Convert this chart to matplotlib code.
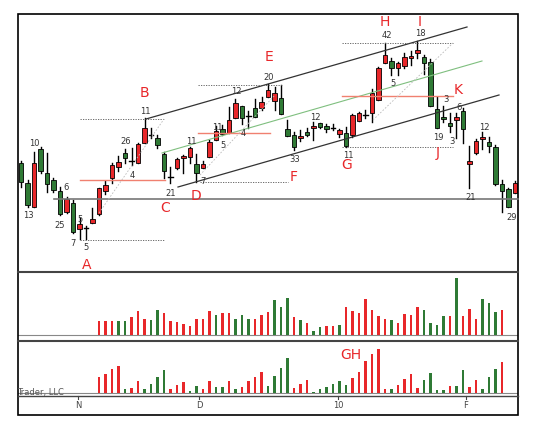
import numpy as np
import matplotlib.pyplot as plt
from matplotlib.patches import Rectangle

# candle data (screen-style levels: smaller = higher)
opens = [163, 183, 207, 149, 173, 180, 191, 212, 203, 229, 228, 223, 214, 191, 178, 167, 153, 161, 163, 143,
         135, 138, 154, 177, 168, 158, 157, 164, 168, 157, 140, 129, 133, 118, 106, 116, 108, 108, 97, 101,
         98, 129, 135, 138, 132, 128, 123, 126, 128, 134, 133, 135, 121, 115, 113, 100, 63, 61, 68, 66,
         58, 53, 57, 62, 109, 117, 123, 120, 111, 164, 153, 139, 142, 147, 184, 189, 193]
closes = [182, 205, 163, 171, 184, 190, 214, 199, 232, 224, 228, 219, 188, 185, 165, 162, 158, 161, 144, 128,
          135, 145, 171, 177, 159, 156, 148, 173, 164, 142, 131, 134, 120, 103, 118, 116, 117, 102, 90, 93,
          114, 136, 147, 136, 135, 126, 127, 129, 128, 130, 146, 115, 113, 115, 93, 68, 55, 68, 63, 57,
          56, 50, 63, 106, 128, 119, 126, 117, 129, 161, 141, 137, 146, 184, 191, 207, 183]
highs = [161, 180, 152, 147, 153, 178, 187, 197, 200, 218, 226, 208, 188, 181, 163, 156, 149, 148, 143, 118,
         128, 135, 152, 167, 158, 155, 147, 154, 161, 140, 126, 125, 107, 99, 106, 111, 99, 97, 84, 87,
         85, 120, 132, 130, 128, 122, 123, 124, 124, 129, 127, 114, 112, 110, 89, 67, 43, 58, 62, 53,
         51, 41, 55, 59, 97, 106, 113, 113, 108, 146, 139, 132, 137, 145, 180, 188, 181]
lows = [187, 207, 207, 173, 192, 192, 215, 213, 233, 239, 239, 223, 215, 194, 183, 171, 163, 165, 163, 143,
        138, 148, 178, 183, 169, 173, 163, 182, 168, 157, 140, 135, 133, 118, 124, 128, 117, 110, 97, 110,
        114, 136, 150, 141, 136, 140, 128, 132, 130, 137, 147, 137, 121, 118, 122, 100, 63, 75, 75, 68,
        65, 58, 74, 106, 128, 122, 132, 138, 143, 188, 154, 149, 152, 185, 212, 207, 193]

# volume panels (start at candle 12)
vol1 = [41, 41, 41, 41, 43, 54, 71, 48, 46, 74, 66, 43, 39, 34, 28, 48, 49, 71, 59, 66, 66, 48, 61, 49, 49,
        59, 68, 104, 84, 111, 53, 44, 36, 11, 24, 28, 26, 31, 84, 73, 66, 108, 76, 56, 49, 46, 36, 63, 59,
        83, 76, 36, 31, 56, 56, 171, 58, 78, 48, 108, 96, 69, 74]
vol1_col = "RRRGGRRRGGRRRRRRRRGRRGGGRRRGGGRGRGGRRGRRRRRRRGRRRRGGGGRGRRRGGGR"
vol2 = [48, 58, 72, 82, 12, 15, 37, 13, 27, 48, 68, 13, 23, 33, 7, 22, 13, 35, 18, 18, 37, 13, 18, 35, 47,
        63, 20, 50, 74, 105, 15, 28, 40, 2, 12, 18, 27, 35, 25, 44, 63, 97, 118, 132, 13, 13, 25, 42, 58,
        15, 40, 60, 10, 10, 20, 20, 68, 17, 40, 13, 47, 72, 92]
vol2_col = "RRRRGRRGGGGRRRGGRRGGRGRRRRGGGGRRRGGGGGGRRRRRRGRRRRGGGGRGGRRGGGR"
vol_start = 12

RED, GREEN = "#e8272a", "#2f7a35"

fig = plt.figure(figsize=(5.37, 4.21), dpi=100)
W, H = 537, 421


def add_axes_px(x0, y0, x1, y1):
    return fig.add_axes([x0 / W, 1 - y1 / H, (x1 - x0) / W, (y1 - y0) / H])


x_left, x_right = 18, 518
x0px, step = 21, 6.5
xl = ((x_left - x0px) / step, (x_right - x0px) / step)

# main candle panel
ax = add_axes_px(x_left, 14, x_right, 272)
for i, (o, c, h, l) in enumerate(zip(opens, closes, highs, lows)):
    col = RED if c < o else GREEN
    ax.plot([i, i], [h, l], color="black", lw=1.0, zorder=2)
    top, bot = min(o, c), max(o, c)
    if bot - top < 1.5:
        ax.plot([i - 0.35, i + 0.35], [o, o], color="black", lw=1.0, zorder=3)
    else:
        ax.add_patch(Rectangle((i - 0.32, top), 0.64, bot - top, facecolor=col,
                               edgecolor="black", lw=0.6, zorder=3))
ax.set_xlim(*xl)
ax.set_ylim(272, 14)
ax.set_facecolor("white")
ax.set_xticks([])
ax.set_yticks([])
for s in ax.spines.values():
    s.set_visible(False)

# volume panels
def vol_panel(y0, y1, base, vals, cols):
    v = add_axes_px(x_left, y0, x_right, y1)
    idx = np.arange(vol_start, vol_start + len(vals))
    v.bar(idx, vals, width=0.42, color=[RED if k == "R" else GREEN for k in cols],
          edgecolor="none", zorder=2)
    v.axhline(0, color="#888888", lw=0.8, zorder=1)
    v.set_xlim(*xl)
    v.set_ylim(-(y1 - base) * 3, (base - y0) * 3)
    v.set_xticks([])
    v.set_yticks([])
    for s in v.spines.values():
        s.set_visible(False)
    return v

vol_panel(274, 340, 335, vol1, vol1_col)
vol_panel(344, 396, 393, vol2, vol2_col)

# overlay in pixel coordinates for drawing annotations
ov = fig.add_axes([0, 0, 1, 1], facecolor="none")
ov.set_xlim(0, W)
ov.set_ylim(H, 0)
ov.axis("off")

# frame and separators
ov.add_patch(Rectangle((x_left, 14), x_right - x_left, 401, fill=False, edgecolor="black", lw=1.2))
ov.plot([x_left, x_right], [272, 272], color="#444444", lw=1.5)
ov.plot([x_left, x_right], [341, 341], color="#444444", lw=1.5)
ov.plot([x_left, x_right], [396, 396], color="#444444", lw=1.0)

# trend lines
ov.plot([54, 518], [199, 199], color="#777777", lw=1.2)
ov.plot([146, 467], [119, 27], color="#333333", lw=0.9)
ov.plot([162, 482], [153, 61], color="#7fbf7f", lw=0.8)
ov.plot([178, 499], [187, 95], color="#333333", lw=0.9)
for x0, x1, y in [(80, 165, 180), (198, 270, 133), (342, 453, 96)]:
    ov.plot([x0, x1], [y, y], color="#f08070", lw=1.0)
for x0, x1, y in [(80, 165, 119), (80, 165, 240), (198, 283, 85), (200, 288, 182),
                  (342, 453, 43), (342, 453, 147)]:
    ov.plot([x0, x1], [y, y], color="#555555", lw=0.6, ls=(0, (1.5, 1.5)))
for (xa, ya), (xb, yb) in [((99, 213), (164, 119)), ((200, 175), (275, 95)), ((373, 120), (453, 43))]:
    ov.plot([xa, xb], [ya, yb], color="#bbbbbb", lw=0.6, ls=(0, (2, 2)))

letters = [("A", 87, 265), ("B", 144, 93), ("C", 165, 208), ("D", 196, 196), ("E", 269, 57),
           ("F", 294, 177), ("G", 347, 165), ("H", 385, 22), ("I", 420, 22), ("J", 438, 153),
           ("K", 458, 90), ("GH", 351, 355)]
for t, x, y in letters:
    ov.text(x, y, t, color="#e8272a", fontsize=10, ha="center", va="center", family="Liberation Sans Narrow")

counts = [("13", 28, 216), ("10", 34, 144), ("6", 66, 188), ("25", 60, 225), ("5", 80, 220),
          ("7", 73, 243), ("5", 86, 248), ("26", 126, 141), ("4", 132, 175), ("11", 145, 111),
          ("21", 171, 193), ("11", 191, 141), ("7", 203, 182), ("11", 217, 127), ("5", 223, 145),
          ("12", 236, 92), ("4", 243, 134), ("20", 269, 77), ("33", 295, 159), ("12", 315, 118),
          ("11", 348, 155), ("42", 387, 35), ("5", 393, 84), ("18", 420, 34), ("3", 446, 99),
          ("19", 438, 137), ("3", 452, 141), ("6", 459, 107), ("12", 484, 128), ("21", 471, 197),
          ("29", 512, 217)]
for t, x, y in counts:
    ov.text(x, y, t, color="#333333", fontsize=6, ha="center", va="center")

ov.text(17, 392, "Trader, LLC", color="#555555", fontsize=6, ha="left", va="center")

# date axis
for lab, x in [("N", 78), ("D", 199), ("10", 338), ("F", 466)]:
    ov.plot([x, x], [396, 399], color="#444444", lw=0.8)
    ov.text(x, 406, lab, color="#444444", fontsize=6, ha="center", va="center")

fig.savefig("out.png", dpi=100)
